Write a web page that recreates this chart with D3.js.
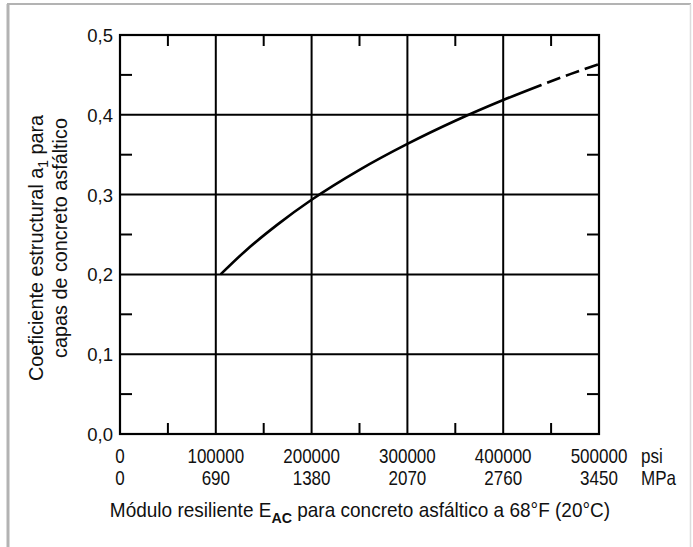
<!DOCTYPE html>
<html><head><meta charset="utf-8">
<script src="https://cdn.jsdelivr.net/npm/d3@7"></script>
<style>
body{margin:0;background:#fff;}
svg text{font-family:"Liberation Sans",Arial,Helvetica,sans-serif;fill:#111;}
</style></head>
<body><svg id="c" width="693" height="547"></svg>
<script>
// ---- data ----
const psiTicks = [0, 100000, 200000, 300000, 400000, 500000];
const psiLabels = ["0", "100000", "200000", "300000", "400000", "500000"];
const mpaLabels = ["0", "690", "1380", "2070", "2760", "3450"];
const yTicks = [0, 0.1, 0.2, 0.3, 0.4, 0.5];
const yLabels = ["0,0", "0,1", "0,2", "0,3", "0,4", "0,5"];
const xMinor = [50000, 150000, 250000, 350000, 450000];
const yMinor = [0.05, 0.15, 0.25, 0.35, 0.45];
const solidPsi = [105000, 130000, 165000, 200000, 250000, 300000, 350000, 400000, 440000];
const solidA1  = [0.200, 0.2285, 0.263, 0.2935, 0.331, 0.3635, 0.3925, 0.4185, 0.4375];
const dashPsi = [440000, 470000, 500000];
const dashA1  = [0.4375, 0.451, 0.4635];

const svg = d3.select("#c");
const L = 120, R = 599, T = 35, B = 434;
const x = d3.scaleLinear().domain([0, 500000]).range([L, R]);
const y = d3.scaleLinear().domain([0, 0.5]).range([B, T]);

// outer frame
svg.append("line").attr("x1",8).attr("y1",4).attr("x2",8).attr("y2",547).attr("stroke","#b3b3b3").attr("stroke-width",3);
svg.append("line").attr("x1",7).attr("y1",4).attr("x2",691).attr("y2",4).attr("stroke","#b3b3b3").attr("stroke-width",2);
svg.append("line").attr("x1",690.5).attr("y1",4).attr("x2",690.5).attr("y2",547).attr("stroke","#dcdcdc").attr("stroke-width",1.5);

const g = svg.append("g");
// grid
g.selectAll(".vg").data(psiTicks.slice(1,-1)).join("line")
  .attr("x1",d=>x(d)).attr("x2",d=>x(d)).attr("y1",T).attr("y2",B)
  .attr("stroke","#000").attr("stroke-width",2);
g.selectAll(".hg").data(yTicks.slice(1,-1)).join("line")
  .attr("x1",L).attr("x2",R).attr("y1",d=>y(d)).attr("y2",d=>y(d))
  .attr("stroke","#000").attr("stroke-width",2);
// minor ticks
const tl = 11;
xMinor.forEach(v=>{
  g.append("line").attr("x1",x(v)).attr("x2",x(v)).attr("y1",B).attr("y2",B-tl).attr("stroke","#000").attr("stroke-width",2);
  g.append("line").attr("x1",x(v)).attr("x2",x(v)).attr("y1",T).attr("y2",T+tl).attr("stroke","#000").attr("stroke-width",2);
});
yMinor.forEach(v=>{
  g.append("line").attr("x1",L).attr("x2",L+12).attr("y1",y(v)).attr("y2",y(v)).attr("stroke","#000").attr("stroke-width",2);
  g.append("line").attr("x1",R).attr("x2",R-12).attr("y1",y(v)).attr("y2",y(v)).attr("stroke","#000").attr("stroke-width",2);
});
// frame
g.append("rect").attr("x",L).attr("y",T).attr("width",R-L).attr("height",B-T)
  .attr("fill","none").attr("stroke","#000").attr("stroke-width",2.2);

// curve
const line = d3.line().x(d=>x(d[0])).y(d=>y(d[1])).curve(d3.curveMonotoneX);
g.append("path").attr("d", line(d3.zip(solidPsi, solidA1)))
  .attr("fill","none").attr("stroke","#000").attr("stroke-width",2.6);
g.append("path").attr("d", line(d3.zip(dashPsi, dashA1)))
  .attr("fill","none").attr("stroke","#000").attr("stroke-width",2.6)
  .attr("stroke-dasharray","14,6").attr("stroke-dashoffset",14);

// y tick labels
g.selectAll(".yl").data(yTicks).join("text")
  .attr("x", L-7).attr("y", d=>y(d)+7).attr("text-anchor","end")
  .attr("font-size",18.5).text((d,i)=>yLabels[i]);

// x tick labels (two rows)
const xs = 0.85;
psiTicks.forEach((v,i)=>{
  g.append("text").attr("transform",`translate(${x(v)},463) scale(${xs},1)`).attr("text-anchor","middle")
    .attr("font-size",20).text(psiLabels[i]);
  g.append("text").attr("transform",`translate(${x(v)},485) scale(${xs},1)`).attr("text-anchor","middle")
    .attr("font-size",20).text(mpaLabels[i]);
});
g.append("text").attr("transform",`translate(641,463) scale(${xs},1)`).attr("font-size",20).text("psi");
g.append("text").attr("transform",`translate(641,485) scale(${xs},1)`).attr("font-size",20).text("MPa");

// x title
const ts = 0.95;
const xt = g.append("text").attr("transform",`translate(360,517) scale(${ts},1)`).attr("text-anchor","middle").attr("font-size",20);
xt.append("tspan").text("Módulo resiliente E");
xt.append("tspan").attr("dy",6).attr("font-size",15).attr("font-weight","bold").text("AC");
xt.append("tspan").attr("dy",-6).text(" para concreto asfáltico a 68°F (20°C)");

// y title
const ys = 0.99;
const yt1 = g.append("text").attr("transform",`translate(43,248) rotate(-90) scale(${ys},1)`).attr("text-anchor","middle").attr("font-size",20);
yt1.append("tspan").text("Coeficiente estructural a");
yt1.append("tspan").attr("dy",5).attr("font-size",14).text("1");
yt1.append("tspan").attr("dy",-5).text(" para");
g.append("text").attr("transform",`translate(67,238) rotate(-90) scale(${ys},1)`).attr("text-anchor","middle").attr("font-size",20)
  .text("capas de concreto asfáltico");
</script></body></html>
